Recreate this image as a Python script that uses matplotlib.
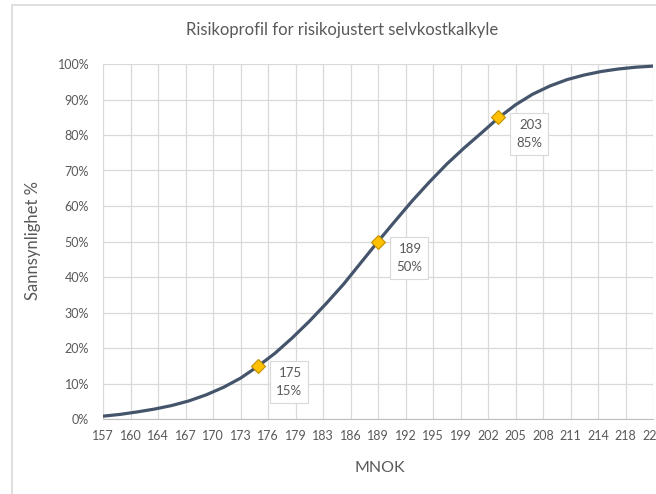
import numpy as np
import matplotlib
matplotlib.use("Agg")
import matplotlib.pyplot as plt
from matplotlib.patches import Rectangle

plt.rcParams['font.family'] = ['Lato', 'DejaVu Sans']

# curve (MNOK, cumulative probability %)
mnok = [157, 159, 161, 163, 165, 167, 169, 171, 173, 175, 177, 179, 181, 183, 185, 187, 189,
        191, 193, 195, 197, 199, 201, 203, 205, 207, 209, 211, 213, 215, 217, 219, 221]
prob = [0.8, 1.3, 2.0, 2.8, 3.8, 5.1, 6.8, 8.9, 11.5, 14.8, 18.5, 22.8, 27.5, 32.6, 38.0, 44.0, 50.0,
        55.8, 61.5, 66.8, 71.8, 76.3, 80.5, 84.8, 88.5, 91.5, 93.8, 95.6, 96.9, 97.9, 98.6, 99.1, 99.4]

# highlighted points
p_x = [175, 189, 203]
p_y = [15, 50, 85]

xtick_labels = ["157", "160", "164", "167", "170", "173", "176", "179", "183", "186", "189",
                "192", "195", "199", "202", "205", "208", "211", "214", "218", "221"]

grey = "#595959"
fig = plt.figure(figsize=(6.56, 4.94), dpi=100)
fig.patches.append(Rectangle((12/656, -0.1), 1.2, 1 - 5/494 + 0.1, transform=fig.transFigure,
                             fill=False, edgecolor="#d9d9d9", linewidth=1.2))
ax = fig.add_axes([103/656, 75/494, 550/656, 355/494])

ax.plot(mnok, prob, color="#44546A", linewidth=2.3, zorder=3, solid_capstyle="round")
ax.plot(p_x, p_y, linestyle="none", marker="D", markersize=7.5, markerfacecolor="#FFC000",
        markeredgecolor="#BF9000", markeredgewidth=0.8, zorder=4)

for x, y in zip(p_x, p_y):
    ax.annotate(f"{x}\n{y}%", xy=(x, y), xytext=(13, -1), textcoords="offset points",
                ha="left", va="top", fontsize=9.5, color=grey, multialignment="right",
                linespacing=1.6,
                bbox=dict(boxstyle="square,pad=0.45", facecolor="white", edgecolor="#d9d9d9",
                          linewidth=0.8), zorder=5)

ax.set_xlim(157, 221)
ax.set_ylim(0, 100)
ax.set_xticks(np.linspace(157, 221, len(xtick_labels)))
ax.set_xticklabels(xtick_labels)
ax.set_yticks(range(0, 101, 10))
ax.set_yticklabels([f"{v}%" for v in range(0, 101, 10)])
ax.tick_params(length=0, labelsize=9, colors=grey, pad=8)
ax.tick_params(axis="y", pad=10)
ax.grid(True, color="#d9d9d9", linewidth=0.9)
ax.set_axisbelow(True)
for s in ["top", "right", "left"]:
    ax.spines[s].set_visible(False)
ax.spines["bottom"].set_color("#bfbfbf")

fig.text(342/656, 1 - 30/494, "Risikoprofil for risikojustert selvkostkalkyle",
         ha="center", va="center", fontsize=12, color=grey)
fig.text(33/656, 1 - 240/494, "Sannsynlighet %", rotation=90, ha="center", va="center",
         fontsize=12, color=grey)
fig.text(380/656, 1 - 468/494, "MNOK", ha="center", va="center", fontsize=11.5, color=grey)

fig.savefig("out.png", dpi=100)
